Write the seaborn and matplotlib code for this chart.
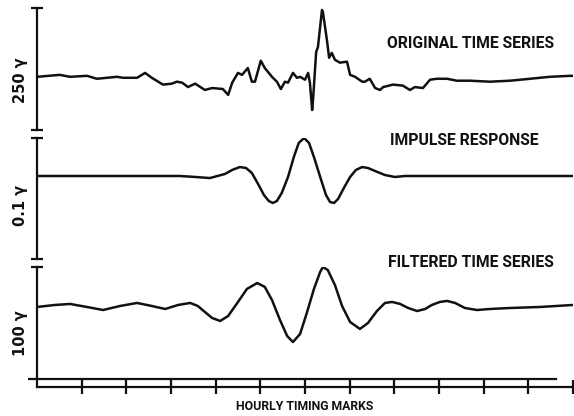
import matplotlib
matplotlib.use("Agg")
import matplotlib.pyplot as plt
import pandas as pd
import seaborn as sns

# ---------------- data (hours, gamma) ----------------
orig_hours = [0.00, 0.51, 0.74, 1.12, 1.34, 1.57, 1.79, 1.93, 2.24, 2.42, 2.57, 2.82,
              3.02, 3.13, 3.25, 3.38, 3.54, 3.76, 3.92, 4.16, 4.28, 4.37, 4.50, 4.59,
              4.72, 4.81, 4.88, 5.01, 5.10, 5.26, 5.37, 5.46, 5.55, 5.62, 5.73, 5.82,
              5.89, 6.00, 6.07, 6.11, 6.16, 6.18, 6.25, 6.29, 6.38, 6.40, 6.49, 6.54,
              6.60, 6.67, 6.78, 6.94, 7.01, 7.12, 7.28, 7.34, 7.45, 7.57, 7.68, 7.75,
              7.97, 8.19, 8.35, 8.46, 8.64, 8.80, 8.95, 9.18, 9.40, 9.69, 10.14, 10.59,
              11.04, 11.48, 11.93, 12.00]
orig_gamma = [-2, 2, -2, 0, -6, -4, -2, -4, -4, 6, -4, -18,
              -16, -12, -14, -23, -16, -29, -25, -27, -39, -14, 6, 2,
              16, -12, -12, 31, 16, -2, -12, -27, -12, -14, 6, -4,
              -2, -8, 6, -14, -70, -49, 49, 59, 135, 131, 74, 37,
              47, 33, 27, 29, 2, -2, -12, -12, -6, -25, -29, -23,
              -18, -20, -29, -23, -25, -8, -6, -6, -10, -10, -12, -10,
              -6, -2, 0, 0]

imp_hours = [0.00, 3.20, 3.54, 3.87, 4.21, 4.37, 4.54, 4.68, 4.81, 4.95, 5.08, 5.19,
             5.28, 5.37, 5.48, 5.62, 5.75, 5.86, 5.98, 6.09, 6.20, 6.34, 6.47, 6.56,
             6.65, 6.74, 6.87, 7.01, 7.14, 7.28, 7.41, 7.57, 7.79, 8.01, 8.24, 12.00]
imp_gamma = [0.0, 0.0, -0.0008, -0.0017, 0.0017, 0.0050, 0.0074, 0.0066, 0.0025, -0.0066,
             -0.0157, -0.0207, -0.0223, -0.0207, -0.0140, -0.0008, 0.0157, 0.0273, 0.0314,
             0.0273, 0.0157, -0.0008, -0.0157, -0.0215, -0.0223, -0.0190, -0.0099, -0.0008,
             0.0050, 0.0074, 0.0066, 0.0041, 0.0008, -0.0008, 0.0, 0.0]

filt_hours = [0.00, 0.40, 0.74, 1.12, 1.48, 1.86, 2.24, 2.57, 2.87, 3.16, 3.43, 3.60,
              3.76, 3.92, 4.10, 4.28, 4.50, 4.70, 4.93, 5.10, 5.26, 5.44, 5.60, 5.73,
              5.89, 6.04, 6.20, 6.34, 6.40, 6.51, 6.67, 6.83, 7.01, 7.23, 7.41, 7.61,
              7.79, 7.95, 8.13, 8.31, 8.51, 8.69, 8.84, 9.02, 9.18, 9.36, 9.58, 9.85,
              10.14, 10.59, 11.26, 12.00]
filt_gamma = [0.0, 1.8, 2.7, 0.0, -2.7, 0.9, 3.6, 0.9, -1.8, 1.8, 3.6, 0.9,
              -4.5, -9.8, -12.5, -8.0, 4.5, 16.1, 21.4, 17.9, 6.3, -11.6, -25.9, -31.3,
              -24.1, -5.4, 16.1, 31.3, 35.7, 33.0, 19.6, 0.9, -13.4, -19.6, -14.3, -3.6,
              3.6, 4.5, 2.7, -0.9, -3.6, -1.8, 1.8, 4.5, 5.4, 3.6, -0.9, -2.7,
              -1.8, -0.9, 0.0, 1.8]

timing_marks = list(range(1, 13))
panel_titles = ["ORIGINAL TIME SERIES", "IMPULSE RESPONSE", "FILTERED TIME SERIES"]
scale_labels = ["250 \u03b3", "0.1 \u03b3", "100 \u03b3"]
scale_limits = [(-111, 139), (-0.0686, 0.0314), (-64.3, 35.7)]
xlabel_text = "HOURLY TIMING MARKS"

# ---------------- figure ----------------
sns.set_theme(style="white")
plt.rcParams["font.family"] = ["DejaVu Sans"]

W, H = 574, 416
fig = plt.figure(figsize=(W / 100, H / 100), dpi=100)
fig.patch.set_facecolor("white")

INK = "#111111"
LW = 1.8
left = 37 / W
width = 536 / W

def frac_rect(top_px, bottom_px):
    return [left, (H - bottom_px) / H, width, (bottom_px - top_px) / H]

rects = [frac_rect(8, 130), frac_rect(138, 259), frac_rect(267, 379)]
series = [(orig_hours, orig_gamma), (imp_hours, imp_gamma), (filt_hours, filt_gamma)]
title_pos = [(0.653, 0.713), (0.659, 0.983), (0.655, 1.036)]
label_y_px = [80, 205, 333]

title_font = dict(family=["Roboto", "DejaVu Sans"], weight="bold",
                  size=11.3, color=INK)

axes = []
for i, (rect, (hx, gy), lim) in enumerate(zip(rects, series, scale_limits)):
    ax = fig.add_axes(rect)
    ax.set_facecolor("none")
    df = pd.DataFrame({"hour": hx, "value": gy})
    sns.lineplot(data=df, x="hour", y="value", ax=ax, color=INK, lw=LW)
    ax.set_xlim(0, 12)
    ax.set_ylim(*lim)
    ax.set_xlabel("")
    ax.set_ylabel("")
    ax.set_xticks([])
    for s in ["top", "right", "bottom"]:
        ax.spines[s].set_visible(False)
    ax.spines["left"].set_color(INK)
    ax.spines["left"].set_linewidth(1.6)
    if i < 2:
        ax.set_yticks(list(lim))
        ax.set_yticklabels([])
        ax.tick_params(axis="y", direction="inout", length=8, width=1.6, color=INK, left=True)
    else:
        ax.set_yticks([lim[1]])
        ax.set_yticklabels([])
        ax.set_yticks([lim[0]], minor=True)
        ax.tick_params(axis="y", which="major", direction="inout", length=8, width=1.6,
                       color=INK, left=True)
        ax.tick_params(axis="y", which="minor", direction="out", length=6.5, width=1.6,
                       color=INK, left=True)
        ax.spines["bottom"].set_visible(True)
        ax.spines["bottom"].set_color(INK)
        ax.spines["bottom"].set_linewidth(1.6)
        ax.spines["bottom"].set_bounds(0, 11.62)
    ax.text(title_pos[i][0], title_pos[i][1], panel_titles[i], transform=ax.transAxes,
            ha="left", va="center", **title_font)
    fig.text(20 / W, (H - label_y_px[i]) / H, scale_labels[i], rotation=90,
             ha="center", va="center", fontsize=10.5, fontweight="bold", color=INK)
    axes.append(ax)

# timing-mark axis
axt = fig.add_axes([left, (H - 387) / H, width, 8 / H])
axt.set_facecolor("none")
axt.set_xlim(0, 12)
axt.set_ylim(0, 1)
axt.set_yticks([])
axt.set_xticks(timing_marks)
axt.set_xticklabels([])
axt.tick_params(axis="x", direction="inout", length=9.5, width=1.6, color=INK, bottom=True)
for s in ["top", "right"]:
    axt.spines[s].set_visible(False)
for s in ["left", "bottom"]:
    axt.spines[s].set_color(INK)
    axt.spines[s].set_linewidth(1.6)

fig.text(304.5 / W, (H - 407) / H, xlabel_text, ha="center", va="center",
         family=["Roboto", "DejaVu Sans"], weight="bold", size=8.8, color=INK)

fig.savefig("out.png", dpi=100, facecolor="white")
